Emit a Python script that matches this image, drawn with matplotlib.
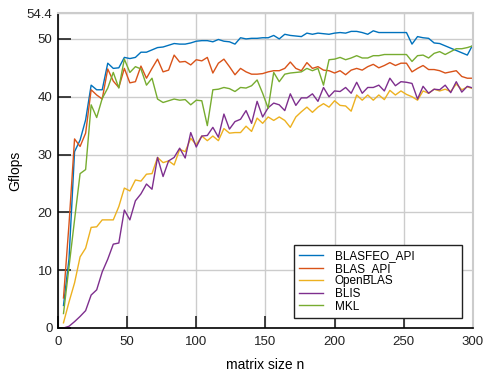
#!/usr/bin/env python

import numpy as np
import matplotlib
matplotlib.use('Agg')
import matplotlib.pyplot as plt

# matrix sizes 4, 8, ..., 300
sizes = list(range(4, 301, 4))

blasfeo_api = [3.9, 12, 30.5, 32.5, 36, 42, 41.2, 41.2, 45.8, 44.9,
               45.0, 46.8, 46.6, 46.8, 47.7, 47.7, 48.1, 48.5, 48.6, 48.9,
               49.2, 49.1, 49.1, 49.3, 49.6, 49.7, 49.7, 49.5, 49.9, 49.6,
               49.5, 49.1, 50.2, 50.0, 50.1, 50.1, 50.2, 50.2, 50.6, 50.0,
               50.8, 50.6, 50.5, 50.4, 51.0, 50.8, 51.0, 50.9, 50.8, 51.0,
               51.1, 51.0, 51.3, 51.3, 51.1, 50.8, 51.4, 51.1, 51.1, 51.1,
               51.1, 51.1, 51.1, 49.1, 50.4, 50.2, 50.1, 49.3, 49.2, 48.8,
               48.4, 48.0, 47.6, 47.2, 49.0]

blas_api = [5.2, 18, 32.7, 31.4, 33.7, 41.2, 40.3, 39.6, 44.8, 42.7,
            41.6, 44.9, 42.4, 42.6, 45.3, 43.2, 44.9, 46.5, 44.3, 44.6,
            47.2, 46.0, 46.1, 45.5, 46.4, 46.2, 46.8, 44.1, 45.8, 46.5,
            45.2, 43.8, 44.9, 44.3, 43.9, 43.9, 44.0, 44.3, 44.5, 44.5,
            44.9, 46.0, 44.9, 44.5, 45.9, 44.9, 45.2, 44.6, 44.5, 44.1,
            44.5, 43.8, 44.6, 44.9, 44.6, 45.2, 45.6, 45.0, 45.4, 45.9,
            45.4, 45.8, 45.8, 44.3, 44.9, 45.4, 44.7, 44.7, 44.5, 44.1,
            44.3, 44.5, 43.5, 43.2, 43.2]

openblas = [0.9, 4.5, 7.8, 12.3, 13.8, 17.4, 17.5, 18.7, 18.7, 18.7,
            21.0, 24.2, 23.7, 25.6, 25.4, 26.6, 26.7, 29.5, 28.6, 28.9,
            28.2, 30.9, 30.5, 32.8, 31.7, 33.2, 32.4, 33.2, 32.4, 34.5,
            33.7, 33.8, 33.8, 34.9, 34.0, 36.3, 35.4, 36.5, 35.9, 36.5,
            35.9, 34.7, 36.5, 37.4, 38.2, 37.3, 38.2, 38.8, 38.2, 39.3,
            38.5, 38.4, 37.5, 40.3, 39.4, 40.3, 39.4, 40.3, 39.5, 41.1,
            40.3, 41.0, 40.4, 40.0, 39.4, 41.0, 40.6, 41.3, 41.0, 41.3,
            40.9, 42.2, 41.2, 41.7, 41.4]

blis = [0.0, 0.3, 1.1, 2.0, 3.0, 5.7, 6.6, 9.7, 11.9, 14.5,
        14.7, 20.4, 18.7, 22.0, 23.2, 24.9, 24.0, 29.5, 26.2, 28.9,
        29.5, 31.1, 29.4, 33.8, 31.3, 33.2, 33.3, 34.7, 33.0, 37.0,
        34.4, 35.7, 36.1, 37.6, 35.4, 39.2, 36.5, 38.1, 38.9, 38.6,
        37.6, 40.5, 38.5, 39.8, 39.8, 40.5, 39.2, 41.6, 40.0, 41.0,
        40.9, 41.6, 40.6, 42.5, 40.6, 41.6, 41.6, 42.0, 41.0, 43.2,
        41.9, 42.6, 42.5, 42.3, 39.6, 41.8, 40.6, 41.3, 41.2, 42.0,
        40.7, 42.6, 40.8, 41.8, 41.5]

mkl = [2.5, 10.6, 18.7, 26.7, 27.4, 38.6, 36.4, 39.7, 41.5, 44.2,
       41.5, 46.5, 44.2, 45.2, 44.8, 42.0, 43.2, 39.6, 39.0, 39.3,
       39.6, 39.4, 39.5, 38.6, 39.4, 39.3, 35.0, 41.2, 41.3, 41.6,
       41.4, 40.9, 41.6, 41.5, 41.9, 42.9, 40.6, 38.0, 44.2, 42.6,
       43.9, 44.1, 44.2, 44.3, 44.9, 44.5, 44.9, 42.0, 46.4, 46.5,
       46.8, 46.4, 46.7, 47.1, 46.7, 46.7, 47.1, 47.1, 47.3, 47.3,
       47.3, 47.3, 47.3, 46.1, 47.1, 47.2, 46.7, 47.5, 47.8, 47.3,
       47.8, 48.3, 48.3, 48.5, 48.8]

labels = ['BLASFEO_API', 'BLAS_API', 'OpenBLAS', 'BLIS', 'MKL']
colors = ['#0072BD', '#D95319', '#EDB120', '#7E2F8E', '#77AC30']

yticks = [0, 10, 20, 30, 40, 50, 54.4]
ytick_labels = ['0', '10', '20', '30', '40', '50', '54.4']
xticks = [0, 50, 100, 150, 200, 250, 300]

plt.rcParams['font.family'] = ['Liberation Sans', 'DejaVu Sans']

fig = plt.figure(figsize=(4.83, 3.74), dpi=100)
ax = fig.add_axes([0.120, 0.123, 0.859, 0.841])

series = [blasfeo_api, blas_api, openblas, blis, mkl]
for data, lab, col in zip(series, labels, colors):
    ax.plot(sizes, data, color=col, lw=1.0, label=lab)

ax.set_xlim(0, 300)
ax.set_ylim(0, 54.4)
ax.set_xticks(xticks)
ax.set_yticks(yticks)
ax.set_yticklabels(ytick_labels)
ax.grid(True, color='#cccccc', lw=1.0)
ax.set_axisbelow(True)

ax.tick_params(direction='in', length=9, width=1.2, labelsize=9.5, colors='#222222')
ax.tick_params(axis='x', pad=6)
ax.tick_params(axis='y', pad=4)

for side in ['top', 'right']:
    ax.spines[side].set_color('#cccccc')
    ax.spines[side].set_linewidth(1.5)
for side in ['left', 'bottom']:
    ax.spines[side].set_color('black')
    ax.spines[side].set_linewidth(1.2)

ax.set_xlabel('matrix size n', fontsize=10, labelpad=7)
ax.set_ylabel('Gflops', fontsize=10, labelpad=3)

# legend box spans a fixed region like the original figure
leg = ax.legend(loc='lower left', bbox_to_anchor=(0.569, 0.032, 0.405, 0.219),
                mode='expand', fontsize=8.5,
                frameon=True, fancybox=False, framealpha=1, edgecolor='#222222',
                labelspacing=0.05, handlelength=2.0, handletextpad=1.0,
                borderpad=0.45, borderaxespad=0)
leg.get_frame().set_linewidth(1.0)

plt.savefig('out.png', dpi=100)
